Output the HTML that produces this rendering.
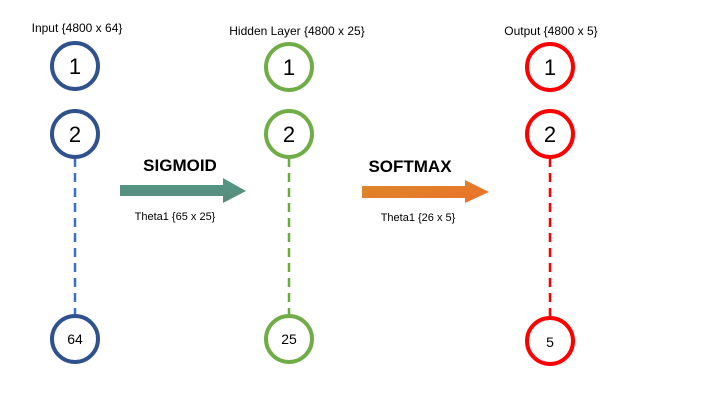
<!DOCTYPE html>
<html><head><style>body{margin:0;background:#fff}svg{display:block}</style></head><body>
<svg width="720" height="405" viewBox="0 0 720 405" xmlns="http://www.w3.org/2000/svg" font-family="Liberation Sans, sans-serif">
<defs>
<linearGradient id="g1" x1="0" x2="0" y1="0" y2="1"><stop offset="0" stop-color="#4f9a86"/><stop offset="1" stop-color="#5b8a7a"/></linearGradient>
<linearGradient id="g2" x1="0" x2="1" y1="0" y2="1"><stop offset="0" stop-color="#d98a2a"/><stop offset="1" stop-color="#ee6f2a"/></linearGradient>
</defs>
<g font-size="12" text-anchor="middle" fill="#000">
<text x="77" y="32">Input {4800 x 64}</text>
<text x="297" y="35">Hidden Layer {4800 x 25}</text>
<text x="551" y="35">Output {4800 x 5}</text>
</g>
<g stroke-width="2.5" stroke-dasharray="9,6">
<line x1="75" y1="158" x2="75" y2="316" stroke="#3a6fd0"/>
<line x1="289" y1="158" x2="289" y2="316" stroke="#6aab3a"/>
<line x1="550" y1="158" x2="550" y2="316" stroke="#f00"/>
</g>
<g fill="#fff" stroke-width="4">
<circle cx="75" cy="66" r="23" stroke="#2f528f"/>
<circle cx="75" cy="134" r="23" stroke="#2f528f"/>
<circle cx="75" cy="339" r="23" stroke="#2f528f"/>
<circle cx="289" cy="67" r="23" stroke="#70ad47"/>
<circle cx="289" cy="134" r="23" stroke="#70ad47"/>
<circle cx="289" cy="339" r="23" stroke="#70ad47"/>
<circle cx="550" cy="67" r="23" stroke="#f00"/>
<circle cx="550" cy="134" r="23" stroke="#f00"/>
<circle cx="550" cy="341" r="23" stroke="#f00"/>
</g>
<g font-size="22" text-anchor="middle">
<text x="75" y="74">1</text><text x="75" y="142">2</text>
<text x="289" y="75">1</text><text x="289" y="142">2</text>
<text x="550" y="75">1</text><text x="550" y="142">2</text>
</g>
<g font-size="14" text-anchor="middle">
<text x="75" y="344">64</text><text x="289" y="344">25</text><text x="550" y="347">5</text>
</g>
<polygon points="120,185 223,185 223,178 246,191 223,203 223,196 120,196" fill="url(#g1)"/>
<polygon points="362,186 465,186 465,180 489,192 465,203 465,198 362,198" fill="url(#g2)"/>
<g font-weight="bold" font-size="17" text-anchor="middle">
<text x="180" y="171">SIGMOID</text>
<text x="410" y="172">SOFTMAX</text>
</g>
<g font-size="11" text-anchor="middle">
<text x="175" y="220">Theta1 {65 x 25}</text>
<text x="418" y="221">Theta1 {26 x 5}</text>
</g>
</svg>
</body></html>
